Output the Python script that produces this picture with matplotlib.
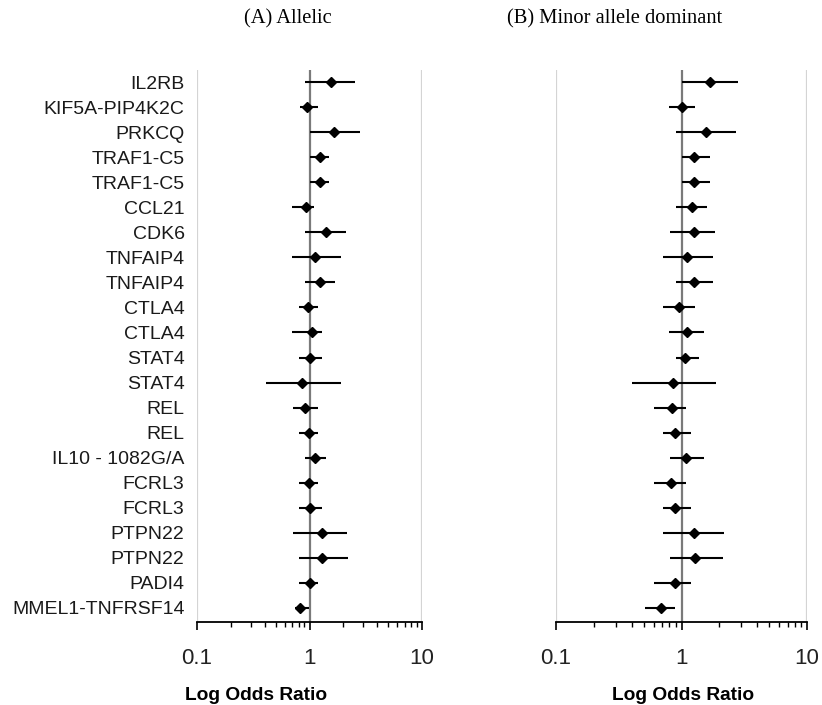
import matplotlib
matplotlib.use("Agg")
import matplotlib.pyplot as plt
from matplotlib.ticker import LogLocator, NullFormatter, FixedLocator, FixedFormatter

genes = ["IL2RB", "KIF5A-PIP4K2C", "PRKCQ", "TRAF1-C5", "TRAF1-C5", "CCL21", "CDK6",
         "TNFAIP4", "TNFAIP4", "CTLA4", "CTLA4", "STAT4", "STAT4", "REL", "REL",
         "IL10 - 1082G/A", "FCRL3", "FCRL3", "PTPN22", "PTPN22", "PADI4", "MMEL1-TNFRSF14"]

# (A) Allelic
a_or = [1.56, 0.95, 1.66, 1.24, 1.24, 0.93, 1.39, 1.12, 1.23, 0.97, 1.06, 1.00, 0.86, 0.91,
        0.99, 1.11, 0.99, 1.02, 1.28, 1.30, 1.00, 0.82]
a_lo = [0.92, 0.815, 1.00, 1.00, 1.00, 0.70, 0.92, 0.70, 0.91, 0.80, 0.70, 0.80, 0.41, 0.71,
        0.80, 0.91, 0.80, 0.80, 0.71, 0.80, 0.80, 0.74]
a_hi = [2.56, 1.19, 2.80, 1.49, 1.48, 1.09, 2.09, 1.89, 1.70, 1.19, 1.30, 1.30, 1.89, 1.19,
        1.19, 1.41, 1.19, 1.30, 2.16, 2.19, 1.19, 0.99]

# (B) Minor allele dominant
b_or = [1.70, 1.00, 1.57, 1.25, 1.25, 1.21, 1.25, 1.11, 1.25, 0.96, 1.10, 1.06, 0.85, 0.84,
        0.89, 1.08, 0.83, 0.88, 1.25, 1.29, 0.89, 0.69]
b_lo = [1.00, 0.80, 0.90, 1.00, 1.00, 0.90, 0.81, 0.71, 0.90, 0.71, 0.80, 0.90, 0.40, 0.60,
        0.71, 0.81, 0.60, 0.71, 0.71, 0.81, 0.60, 0.51]
b_hi = [2.81, 1.29, 2.73, 1.69, 1.69, 1.60, 1.85, 1.78, 1.78, 1.29, 1.50, 1.39, 1.89, 1.09,
        1.19, 1.50, 1.09, 1.19, 2.17, 2.16, 1.19, 0.89]

xticks = [0.1, 1, 10]
xticklabels = ["0.1", "1", "10"]

fig = plt.figure(figsize=(8.22, 7.05), dpi=100)
W, H = 822, 705

def make_ax(left_px, right_px):
    return fig.add_axes([left_px / W, 1 - 622 / H, (right_px - left_px) / W, (622 - 70) / H])

axA = make_ax(197, 422)
axB = make_ax(556, 807)

ypos = list(range(1, len(genes) + 1))

for ax, orv, lo, hi in [(axA, a_or, a_lo, a_hi), (axB, b_or, b_lo, b_hi)]:
    ax.set_xscale("log")
    ax.set_xlim(0.1, 10)
    ax.set_ylim(22.56, 0.52)
    ax.axvline(0.1, color="#d4d4d4", lw=1.6, zorder=1)
    ax.axvline(10, color="#d4d4d4", lw=1.6, zorder=1)
    ax.axvline(1, color="#7a7a7a", lw=1.6, zorder=1)
    ax.hlines(ypos, lo, hi, color="black", lw=1.5, zorder=2)
    ax.plot(orv, ypos, linestyle="none", marker="D", markersize=5.5, markeredgewidth=1.0,
            color="black", zorder=3)
    for s in ["top", "left", "right"]:
        ax.spines[s].set_visible(False)
    ax.spines["bottom"].set_linewidth(1.3)
    ax.xaxis.set_major_locator(FixedLocator(xticks))
    ax.xaxis.set_major_formatter(FixedFormatter(xticklabels))
    ax.xaxis.set_minor_locator(LogLocator(base=10, subs=range(2, 10)))
    ax.xaxis.set_minor_formatter(NullFormatter())
    ax.tick_params(axis="x", which="major", length=6, width=1.2, labelsize=16, pad=13,
                   direction="out")
    ax.tick_params(axis="x", which="minor", length=3.5, width=1.0, direction="out")
    ax.set_yticks([])
    for lab in ax.get_xticklabels():
        lab.set_family(["Liberation Sans", "DejaVu Sans"])
        lab.set_color("#222222")

axA.set_yticks(ypos)
axA.set_yticklabels(genes, fontsize=14, family=["Liberation Sans", "DejaVu Sans"],
                    color="#1a1a1a")
axA.tick_params(axis="y", length=0, pad=9)

fig.text(256 / W, 1 - 695 / H, "Log Odds Ratio", ha="center", va="center", fontsize=13.8,
         fontweight="bold", family=["Liberation Sans", "DejaVu Sans"])
fig.text(683 / W, 1 - 695 / H, "Log Odds Ratio", ha="center", va="center", fontsize=13.8,
         fontweight="bold", family=["Liberation Sans", "DejaVu Sans"])

fig.text(288 / W, 1 - 19 / H, "(A) Allelic", ha="center", va="center", fontsize=14.8,
         family=["Liberation Serif", "DejaVu Serif"])
fig.text(615 / W, 1 - 19 / H, "(B) Minor allele dominant", ha="center", va="center",
         fontsize=14.8, family=["Liberation Serif", "DejaVu Serif"])

fig.savefig("out.png", dpi=100)
